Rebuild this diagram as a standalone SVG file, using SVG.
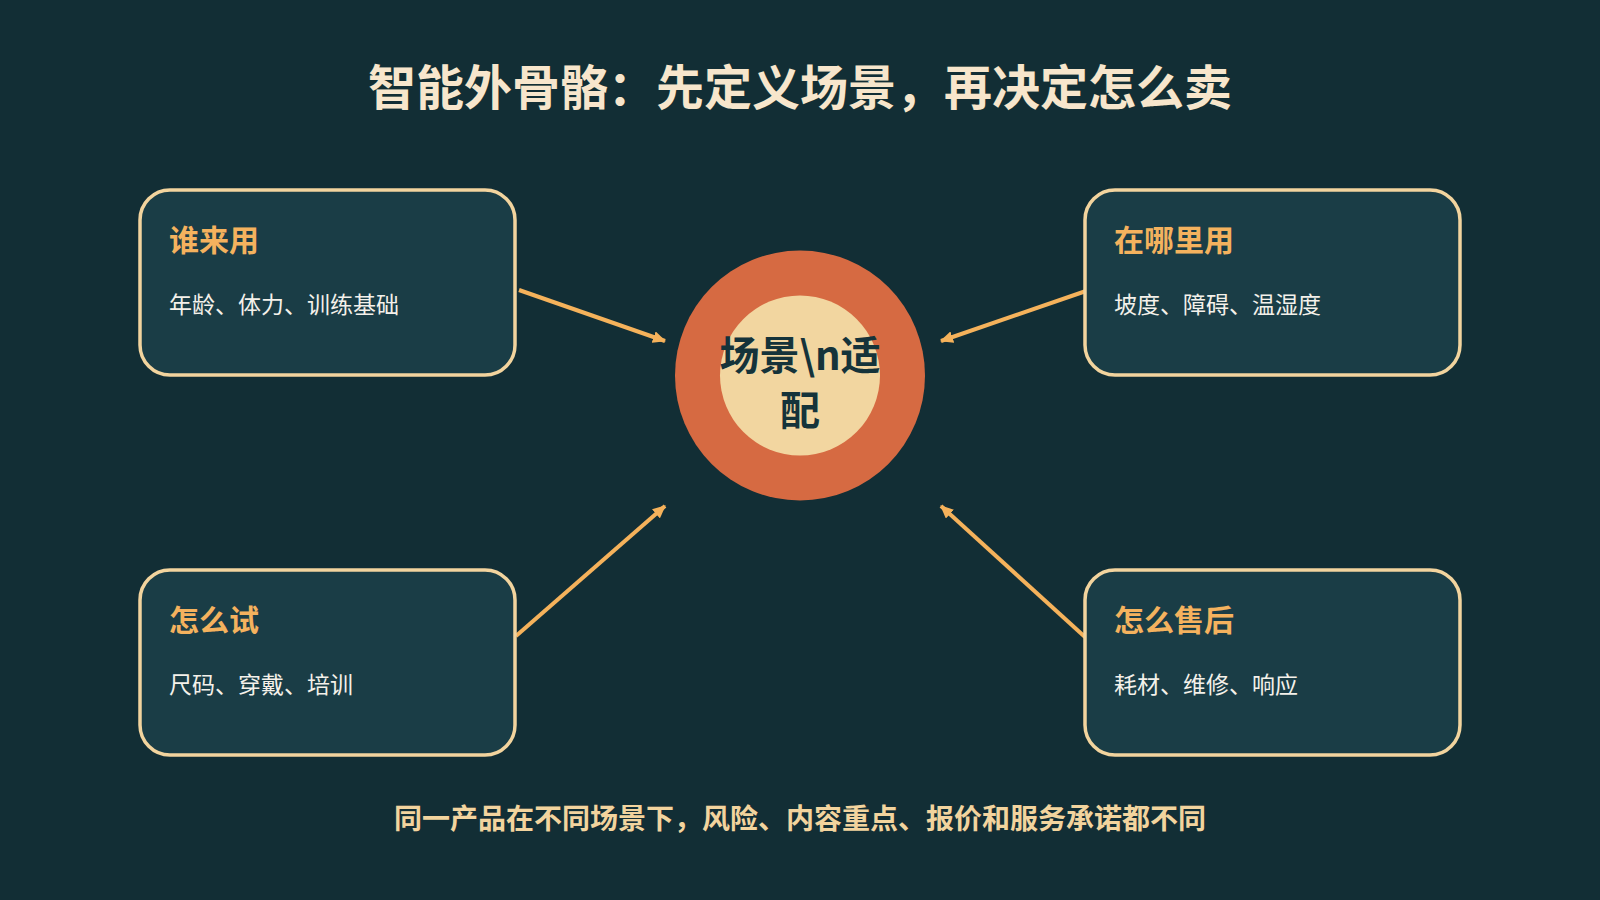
<svg xmlns="http://www.w3.org/2000/svg" width="1600" height="900" viewBox="0 0 1600 900">
<style>
.bg{fill:#122E35}
.box{fill:#1A3D46;stroke:#F2D49E;stroke-width:3.5}
.h{font-family:"Noto Sans CJK SC","Noto Sans",sans-serif;font-weight:700;font-size:30px;fill:#F4B25E}
.b{font-family:"Noto Sans CJK SC","Noto Sans",sans-serif;font-size:23px;fill:#F4F1EA}
.title{font-family:"Noto Sans CJK SC","Noto Sans",sans-serif;font-weight:700;font-size:48px;fill:#F7E6CC}
.foot{font-family:"Noto Sans CJK SC","Noto Sans",sans-serif;font-weight:700;font-size:28px;fill:#F2D49E}
.ctr{font-family:"Noto Sans CJK SC","Noto Sans",sans-serif;font-weight:700;font-size:40px;fill:#15333A}
.conn{stroke:#F5B25B;stroke-width:4;fill:none}
</style>
<defs>
<marker id="ah" markerUnits="userSpaceOnUse" markerWidth="14" markerHeight="12" refX="12" refY="6" orient="auto">
<path d="M0,0 L13,6 L0,12 Z" fill="#F5B25B"/>
</marker>
</defs>
<rect class="bg" x="0" y="0" width="1600" height="900"/>
<text class="title" x="800" y="105" text-anchor="middle">智能外骨骼：先定义场景，再决定怎么卖</text>
<g id="connectors">
<line class="conn" x1="519" y1="290" x2="665" y2="341" marker-end="url(#ah)"/>
<line class="conn" x1="1086" y1="291" x2="941" y2="341" marker-end="url(#ah)"/>
<line class="conn" x1="516" y1="636" x2="665" y2="506" marker-end="url(#ah)"/>
<line class="conn" x1="1085" y1="637" x2="941" y2="506" marker-end="url(#ah)"/>
</g>
<g id="center">
<circle cx="800" cy="375.5" r="125" fill="#D66A42"/>
<circle cx="800" cy="375.5" r="80" fill="#F2D6A0"/>
<text class="ctr" x="800" y="370" text-anchor="middle">场景\n适</text>
<text class="ctr" x="800" y="425" text-anchor="middle">配</text>
</g>
<g id="who">
<rect class="box" x="140" y="190" width="375" height="185" rx="30"/>
<text class="h" x="169" y="251">谁来用</text>
<text class="b" x="169" y="313">年龄、体力、训练基础</text>
</g>
<g id="where">
<rect class="box" x="1085" y="190" width="375" height="185" rx="30"/>
<text class="h" x="1114" y="251">在哪里用</text>
<text class="b" x="1114" y="313">坡度、障碍、温湿度</text>
</g>
<g id="trial">
<rect class="box" x="140" y="570" width="375" height="185" rx="30"/>
<text class="h" x="169" y="631">怎么试</text>
<text class="b" x="169" y="693">尺码、穿戴、培训</text>
</g>
<g id="service">
<rect class="box" x="1085" y="570" width="375" height="185" rx="30"/>
<text class="h" x="1114" y="631">怎么售后</text>
<text class="b" x="1114" y="693">耗材、维修、响应</text>
</g>
<text class="foot" x="800" y="829" text-anchor="middle">同一产品在不同场景下，风险、内容重点、报价和服务承诺都不同</text>
</svg>
